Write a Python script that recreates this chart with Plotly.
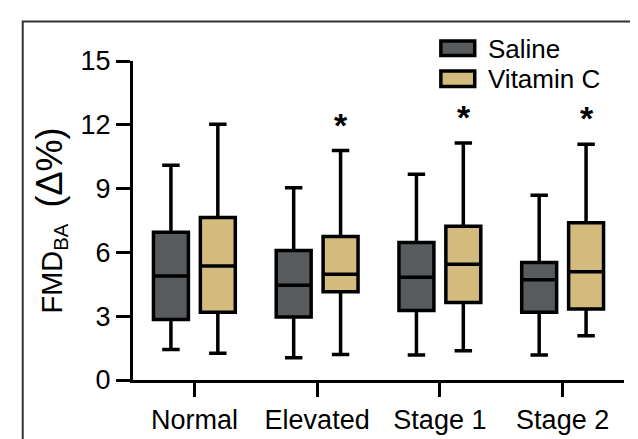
import plotly.graph_objects as go

categories = ["Normal", "Elevated", "Stage 1", "Stage 2"]

saline_min = [1.44, 1.05, 1.17, 1.17]
saline_q1 = [2.84, 2.96, 3.27, 3.18]
saline_med = [4.89, 4.45, 4.83, 4.71]
saline_q3 = [6.95, 6.09, 6.46, 5.52]
saline_max = [10.1, 9.04, 9.68, 8.69]

vitc_min = [1.26, 1.20, 1.38, 2.08]
vitc_q1 = [3.18, 4.15, 3.65, 3.34]
vitc_med = [5.36, 4.97, 5.44, 5.09]
vitc_q3 = [7.64, 6.75, 7.23, 7.40]
vitc_max = [12.02, 10.79, 11.14, 11.09]

significant = [False, True, True, True]

y_ticks = [0, 3, 6, 9, 12, 15]

SALINE_COLOR = "rgb(88,91,93)"
VITC_COLOR = "rgb(210,187,125)"
FONT = "Liberation Sans, Arial, sans-serif"

fig = go.Figure()
fig.add_trace(go.Box(
    name="Saline", x=categories, q1=saline_q1, median=saline_med, q3=saline_q3,
    lowerfence=saline_min, upperfence=saline_max,
    fillcolor=SALINE_COLOR, line=dict(color="black", width=3.5),
    whiskerwidth=0.5, boxpoints=False, showlegend=False,
))
fig.add_trace(go.Box(
    name="Vitamin C", x=categories, q1=vitc_q1, median=vitc_med, q3=vitc_q3,
    lowerfence=vitc_min, upperfence=vitc_max,
    fillcolor=VITC_COLOR, line=dict(color="black", width=3.5),
    whiskerwidth=0.5, boxpoints=False, showlegend=False,
))

# significance asterisks above Vitamin C boxes
for cat, mx, sig in zip(categories, vitc_max, significant):
    if sig:
        fig.add_annotation(x=cat, y=mx, text="<b>*</b>", showarrow=False,
                           xshift=24, yshift=26,
                           font=dict(family=FONT, size=34, color="black"))

# manual legend
legend_items = [("Saline", SALINE_COLOR, 1.0629, 1.0173, 1.0386),
                ("Vitamin C", VITC_COLOR, 0.9687, 0.9201, 0.9444)]
for label, color, y1, y0, yc in legend_items:
    fig.add_shape(type="rect", xref="paper", yref="paper",
                  x0=0.627, x1=0.696, y0=y0, y1=y1,
                  fillcolor=color, line=dict(color="black", width=3.5))
    fig.add_annotation(xref="paper", yref="paper", x=0.718, y=yc,
                       text=label, showarrow=False, xanchor="left", yanchor="middle",
                       font=dict(family=FONT, size=26, color="black"))

# outer frame
fig.add_shape(type="rect", xref="paper", yref="paper",
              x0=-0.2246, x1=1.0396, y0=-0.2, y1=1.1237,
              line=dict(color="rgb(50,50,50)", width=2), fillcolor="rgba(0,0,0,0)",
              layer="below")

fig.update_layout(
    width=638, height=439,
    margin=dict(l=124.5, r=21.5, t=52.7, b=57.3),
    plot_bgcolor="white", paper_bgcolor="white",
    boxmode="group", boxgap=0.236, boxgroupgap=0.255,
    font=dict(family=FONT, size=27, color="black"),
    showlegend=False,
)
fig.update_xaxes(
    type="category", range=[-0.5, 3.5],
    showline=True, linecolor="black", linewidth=3,
    ticks="outside", ticklen=14, tickwidth=3, tickcolor="black",
    showgrid=False, zeroline=False,
    tickfont=dict(family=FONT, size=27, color="black"),
)
fig.update_yaxes(
    range=[0, 15], tickvals=y_ticks, ticktext=[str(t) for t in y_ticks],
    showline=True, linecolor="black", linewidth=3,
    ticks="outside", ticklen=14, tickwidth=3, tickcolor="black",
    showgrid=False, zeroline=False,
    tickfont=dict(family=FONT, size=27, color="black"),
    title=dict(text="FMD<sub>BA</sub>  <span style='font-size:36px'>(Δ%)</span>",
               standoff=10,
               font=dict(family=FONT, size=29, color="black")),
)

fig.write_html("out.html")
